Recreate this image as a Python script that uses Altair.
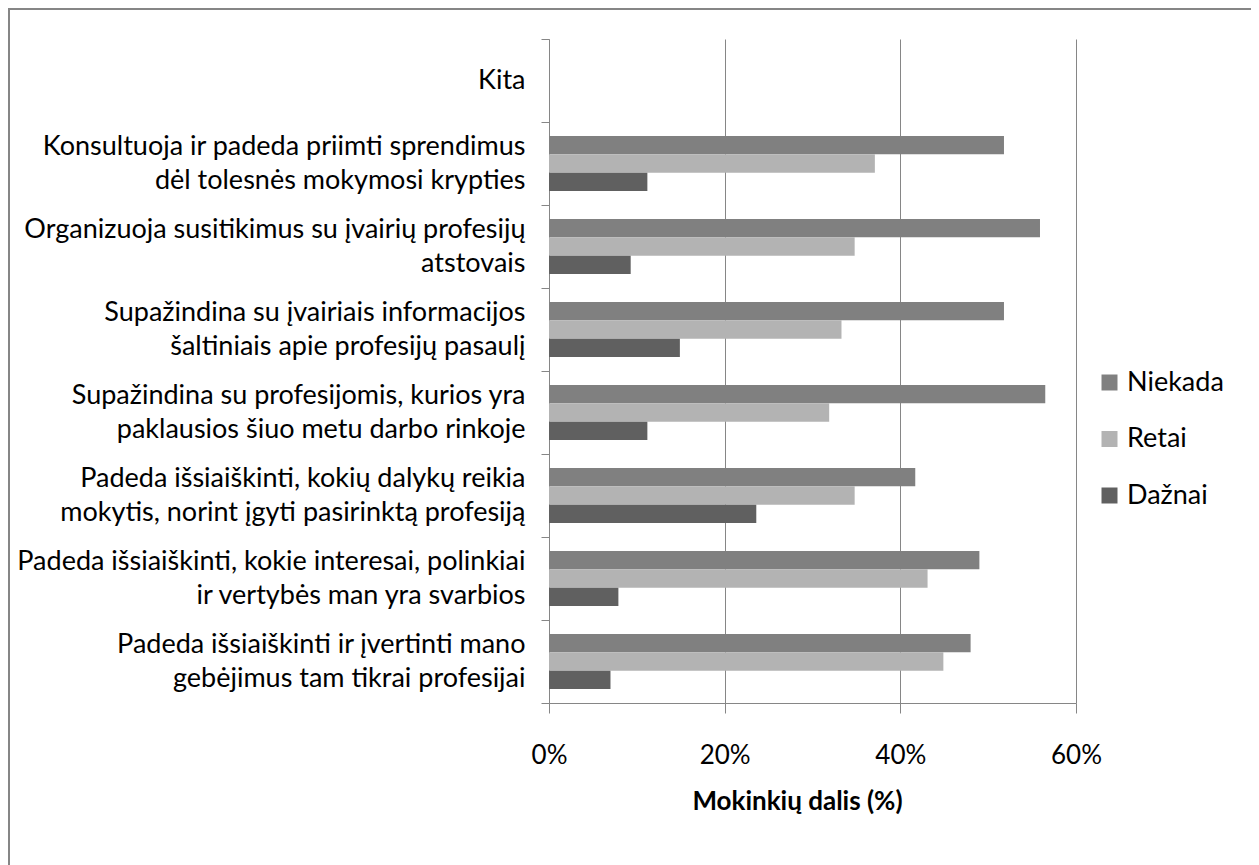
import altair as alt
import pandas as pd

categories = [
    "Kita",
    "Konsultuoja ir padeda priimti sprendimus|dėl tolesnės mokymosi krypties",
    "Organizuoja susitikimus su įvairių profesijų|atstovais",
    "Supažindina su įvairiais informacijos|šaltiniais apie profesijų pasaulį",
    "Supažindina su profesijomis, kurios yra|paklausios šiuo metu darbo rinkoje",
    "Padeda išsiaiškinti, kokių dalykų reikia|mokytis, norint įgyti pasirinktą profesiją",
    "Padeda išsiaiškinti, kokie interesai, polinkiai|ir vertybės man yra svarbios",
    "Padeda išsiaiškinti ir įvertinti mano|gebėjimus tam tikrai profesijai",
]
series = ["Niekada", "Retai", "Dažnai"]
colors = ["#808080", "#b3b3b3", "#606060"]

# values for categories[1:] (Kita has no data)
niekada = [51.8, 55.9, 51.8, 56.5, 41.7, 49.0, 48.0]
retai = [37.1, 34.8, 33.3, 31.9, 34.8, 43.1, 44.9]
daznai = [11.2, 9.3, 14.9, 11.2, 23.6, 7.9, 7.0]
x_ticks = [0, 20, 40, 60]

rows = []
for name, vals in zip(series, [niekada, retai, daznai]):
    for cat, v in zip(categories[1:], vals):
        rows.append({"kategorija": cat, "serija": name, "reiksme": v})
df = pd.DataFrame(rows)

FONT = "Lato"
GRAY = "#868686"

bars = alt.Chart(df).mark_bar().encode(
    x=alt.X(
        "reiksme:Q",
        scale=alt.Scale(domain=[0, 60], nice=False),
        axis=alt.Axis(
            values=x_ticks,
            labelExpr="datum.value + '%'",
            title="Mokinkių dalis (%)",
            grid=True,
            gridColor=GRAY,
            gridWidth=1,
            domainColor=GRAY,
            domainWidth=1,
            tickColor=GRAY,
            tickWidth=1,
            tickSize=10,
            labelFont=FONT,
            labelFontSize=26,
            labelColor="#000000",
            labelPadding=42,
            labelBaseline="middle",
            labelFlush=False,
            titleFont=FONT,
            titleFontSize=26,
            titleFontWeight="bold",
            titleColor="#000000",
            titleX=248,
            titleY=98,
            titleAlign="center",
            titleBaseline="middle",
        ),
    ),
    y=alt.Y(
        "kategorija:N",
        sort=categories,
        scale=alt.Scale(domain=categories, paddingInner=0, paddingOuter=0),
        axis=alt.Axis(
            title=None,
            tickBand="extent",
            labelExpr="split(datum.label, '|')",
            labelFont=FONT,
            labelFontSize=27,
            labelLineHeight=34,
            labelColor="#000000",
            labelAlign="right",
            labelBaseline="middle",
            labelOffset={"condition": {"test": "datum.value == 'Kita'", "value": 0}, "value": -17},
            labelPadding=16,
            labelLimit=700,
            tickSize=8,
            tickColor=GRAY,
            tickWidth=1,
            domainColor=GRAY,
            domainWidth=1,
            grid=False,
        ),
    ),
    yOffset=alt.YOffset(
        "serija:N",
        sort=series,
        scale=alt.Scale(domain=series, paddingInner=0, paddingOuter=0.76),
    ),
    color=alt.Color(
        "serija:N",
        sort=series,
        scale=alt.Scale(domain=series, range=colors),
        legend=alt.Legend(
            title=None,
            orient="none",
            legendX=547,
            legendY=330,
            symbolType="square",
            symbolSize=256,
            symbolStrokeWidth=0,
            labelFont=FONT,
            labelFontSize=27,
            labelColor="#000000",
            labelOffset=4,
            rowPadding=28.5,
            labelLimit=300,
        ),
    ),
)

border = alt.Chart(pd.DataFrame({"a": [0]})).mark_rect(
    fillOpacity=0, stroke=GRAY, strokeWidth=2
).encode(
    x=alt.value(-540),
    x2=alt.value(703),
    y=alt.value(-30),
    y2=alt.value(900),
)

chart = alt.layer(bars, border).properties(
    width=527,
    height=664,
    padding={"left": 541, "top": 31, "right": 175, "bottom": 162},
    autosize=alt.AutoSizeParams(type="none"),
    background="white",
).configure_view(stroke=None)

chart.save("out.html", embed_options={"renderer": "svg", "actions": False})
